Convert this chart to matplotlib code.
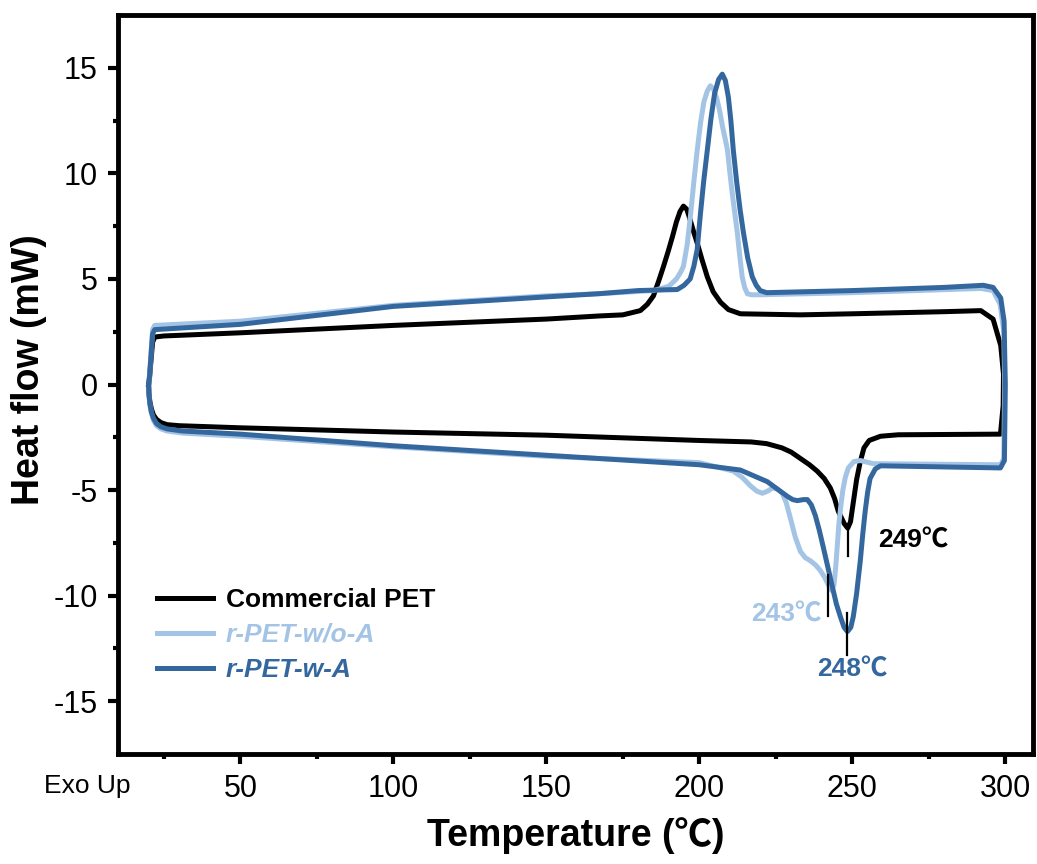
import matplotlib
matplotlib.use("Agg")
import matplotlib.pyplot as plt
import numpy as np

plt.rcParams["font.family"] = ["Liberation Sans", "Noto Sans CJK SC", "DejaVu Sans"]
plt.rcParams["axes.unicode_minus"] = False

# ---- data (temperature in C, heat flow in mW) ----
labels = ["Commercial PET", "r-PET-w/o-A", "r-PET-w-A"]
colors = ["black", "#a4c4e6", "#35679f"]

# heating run (lower branch, left -> right, then up the right edge)
black_heat_T = [20, 20.1, 20.4, 20.9, 21.6, 22.6, 24, 26, 30, 50, 100, 150, 200, 217, 222,
                227, 230, 233, 236, 238.5, 240.8, 242.8, 244.2, 245.4, 246.4, 247.4, 248.5,
                249.4, 250.3, 251.4, 252.6, 253.8, 255.5, 259.2, 265, 298.4,
                299.3, 299.4, 298.5, 296, 292]
black_heat_Q = [0, -0.4, -0.8, -1.15, -1.45, -1.65, -1.8, -1.9, -1.95, -2.05, -2.25, -2.4,
                -2.65, -2.72, -2.8, -3.0, -3.2, -3.5, -3.8, -4.1, -4.45, -4.9, -5.4, -6.0,
                -6.3, -6.6, -6.8, -6.5, -5.6, -4.5, -3.65, -3.0, -2.65, -2.45, -2.38, -2.35,
                -1.0, 0.5, 1.85, 3.1, 3.5]
# cooling run (upper branch, right -> left, then down the left edge)
black_cool_T = [280, 250, 233, 213.4, 209.5, 206.9, 204.5, 202.6, 200.9, 199.3, 198.2, 197,
                195.9, 194.8, 193.7, 192.5, 191.2, 189.8, 188.3, 186.7, 185, 183, 180.7, 175,
                167.6, 150, 100, 50, 25, 22, 21.3, 20.7, 20.3, 20]
black_cool_Q = [3.45, 3.35, 3.3, 3.35, 3.55, 3.9, 4.4, 5.1, 5.9, 6.7, 7.2, 7.8, 8.3, 8.45,
                8.2, 7.7, 7.0, 6.3, 5.6, 4.9, 4.2, 3.8, 3.5, 3.3, 3.25, 3.1, 2.8, 2.45, 2.3,
                2.25, 2.0, 1.0, 0.3, 0]

light_heat_T = [20, 20.1, 20.4, 20.9, 21.6, 22.6, 24, 26, 31, 50, 100, 150, 200, 211.1, 214,
                216.7, 218.8, 220.6, 222.3, 223.9, 225.5, 227.1, 228.4, 229.7, 231.3, 233,
                234.6, 236.3, 238, 239.5, 241, 242.2, 243.2, 244, 244.6, 245.1, 245.6, 246.2,
                246.9, 247.7, 248.7, 250.5, 252.6, 256.9, 298.5,
                299.5, 299.8, 299.5, 298.3, 296, 292]
light_heat_Q = [0, -0.45, -0.95, -1.35, -1.7, -1.95, -2.1, -2.2, -2.3, -2.45, -2.95, -3.4,
                -3.7, -4.1, -4.4, -4.8, -5.05, -5.15, -5.05, -4.9, -4.95, -5.15, -5.6, -6.3,
                -7.2, -7.9, -8.2, -8.35, -8.55, -8.8, -9.15, -9.5, -9.75, -9.5, -8.6, -7.6,
                -6.6, -5.8, -5.0, -4.4, -3.95, -3.65, -3.6, -3.75, -3.8,
                -3.5, 0, 2.5, 3.8, 4.45, 4.55]
light_cool_T = [250, 220, 217, 215.7, 214.8, 214, 213.2, 212.4, 211.6, 210.8, 210, 209.2,
                208.5, 207.6, 206.6, 205.6, 204.6, 203.6, 202.6, 201.5, 200.4, 199.3, 198.2,
                197.1, 196, 194.8, 193.8, 192.5, 190, 185, 167, 150, 100, 50, 22, 21.3, 20.7,
                20.3, 20]
light_cool_Q = [4.35, 4.25, 4.25, 4.3, 4.6, 5.1, 6.1, 7.2, 8.1, 9.0, 10.0, 11.1, 11.6, 12.2,
                13.0, 13.6, 14.0, 14.15, 13.9, 13.4, 12.4, 11.1, 9.6, 8.0, 6.6, 5.6, 5.3, 5.0,
                4.65, 4.45, 4.3, 4.2, 3.75, 3.0, 2.8, 2.6, 1.3, 0.4, 0]

dark_heat_T = [20, 20.1, 20.4, 20.9, 21.6, 22.6, 24, 26, 31, 50, 100, 150, 200, 213.4, 222.2,
               225.5, 228.8, 230.5, 232, 234, 235.3, 236.6, 237.9, 239.2, 240.5, 242, 243.5,
               244.8, 246.1, 247.3, 248.4, 249.5, 250.3, 251.4, 252.6, 253.4, 254.2, 255,
               255.8, 257.5, 259.2, 298.4,
               299.7, 300, 299.6, 298.5, 296, 292.8]
dark_heat_Q = [0, -0.4, -0.9, -1.3, -1.6, -1.85, -2.0, -2.1, -2.2, -2.35, -2.9, -3.35, -3.8,
               -4.05, -4.6, -4.95, -5.3, -5.45, -5.5, -5.45, -5.45, -5.7, -6.2, -6.9, -7.7,
               -8.65, -9.6, -10.4, -11.0, -11.5, -11.7, -11.5, -11.0, -9.9, -8.35, -7.1, -6.0,
               -5.1, -4.45, -4.0, -3.85, -3.95,
               -3.6, 0, 3.0, 4.1, 4.6, 4.7]
dark_cool_T = [280, 250, 222, 219.9, 218.6, 217.3, 215.8, 214.4, 213.3, 212.2, 211.1, 210.3,
               209.5, 208.5, 207.5, 206.3, 205, 203.8, 202.6, 201.4, 200.3, 199.3, 198.2,
               197, 195, 192.8, 180, 167, 150, 100, 50, 22, 21.3, 20.7, 20.3, 20]
dark_cool_Q = [4.6, 4.45, 4.35, 4.45, 4.7, 5.1, 6.0, 7.2, 8.3, 9.6, 11.1, 12.5, 13.6, 14.4,
               14.7, 14.45, 13.8, 12.6, 11.1, 9.6, 8.0, 6.4, 5.6, 5.0, 4.7, 4.5, 4.45, 4.3,
               4.15, 3.7, 2.85, 2.6, 2.4, 1.2, 0.4, 0]

# melting peak markers: x, y start, y end, text, text position, alignment
peak_x = [248.7, 242.2, 248.4]
peak_y0 = [-6.8, -9.0, -10.8]
peak_y1 = [-8.1, -10.95, -12.8]
peak_text = ["249℃", "243℃", "248℃"]
peak_tx = [258.5, 239.8, 250.0]
peak_ty = [-7.4, -10.9, -13.5]
peak_ha = ["left", "right", "center"]

fig = plt.figure(figsize=(10.37, 8.64), dpi=100)
ax = fig.add_axes([0.1138, 0.1273, 0.8822, 0.8553])

series = [
    (black_heat_T + black_cool_T, black_heat_Q + black_cool_Q),
    (light_heat_T + light_cool_T, light_heat_Q + light_cool_Q),
    (dark_heat_T + dark_cool_T, dark_heat_Q + dark_cool_Q),
]
for (T, Q), c, lab in zip(series, colors, labels):
    ax.plot(T, Q, color=c, lw=3.6, label=lab, solid_joinstyle="round")

for x, y0, y1, t, tx, ty, ha, c in zip(peak_x, peak_y0, peak_y1, peak_text,
                                        peak_tx, peak_ty, peak_ha, colors):
    ax.plot([x, x], [y0, y1], color="black", lw=1.6)
    ax.text(tx, ty, t, color=c, fontsize=19, fontweight="bold", ha=ha, va="center")

ax.set_xlim(10, 309)
ax.set_ylim(-17.5, 17.5)
ax.set_xticks(np.arange(50, 301, 50))
ax.set_xticks(np.arange(25, 300, 50), minor=True)
ax.set_yticks(np.arange(-15, 16, 5))
ax.set_yticks(np.arange(-12.5, 15, 5), minor=True)

for s in ax.spines.values():
    s.set_linewidth(3.5)
ax.tick_params(which="major", direction="out", length=7.5, width=3, labelsize=22, pad=7)
ax.tick_params(which="minor", direction="out", length=3.8, width=3)

ax.set_xlabel("Temperature (℃)", fontsize=27, fontweight="bold")
ax.set_ylabel("Heat flow (mW)", fontsize=27, fontweight="bold")
ax.xaxis.set_label_coords(0.5, -0.085)
ax.yaxis.set_label_coords(-0.078, 0.52)

ax.annotate("Exo Up", xy=(0, 0), xycoords=("data", "axes fraction"),
            xytext=(0, -14.5), textcoords="offset points",
            ha="center", va="top", fontsize=19, annotation_clip=False)

leg = ax.legend(loc="upper left", bbox_to_anchor=(0.043, 0.225), frameon=False,
                borderpad=0, borderaxespad=0, handlelength=2.1, handletextpad=0.5,
                labelspacing=0.42, labelcolor="linecolor",
                prop={"size": 19, "weight": "bold"})
for t in leg.get_texts()[1:]:
    t.set_style("italic")

fig.savefig("out.png", dpi=100)
